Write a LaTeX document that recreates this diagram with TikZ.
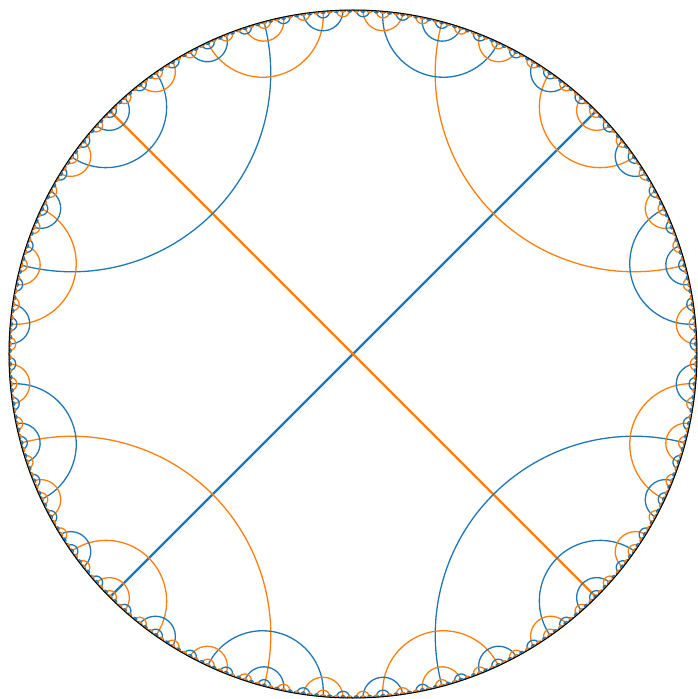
\documentclass[tikz,border=0pt]{standalone}
\usepackage{tikz}

\definecolor{hypblue}{HTML}{1F77B4}
\definecolor{hyporange}{HTML}{FF7F0E}
\def\rad{344}

\tikzset{
  geo0/.style={hypblue,line width=1.3pt},
  geo1/.style={hyporange,line width=1.3pt},
  axis/.style={line width=2.4pt}
}

% geodesic through the vertex that owns the boundary interval [#1,#1+#2]
\newcommand\geoarc[3]{%
  \pgfmathsetmacro\gm{#1+#2/2}%
  \pgfmathsetmacro\gh{#2/3}%
  \pgfmathsetmacro\gr{\rad*tan(\gh)}%
  \pgfmathsetmacro\gd{\rad/cos(\gh)}%
  \draw[geo#3] (\gm:\gd pt) ++(\gm+90+\gh:\gr pt)
    arc[start angle=\gm+90+\gh, end angle=\gm+270-\gh, radius=\gr pt];%
}

% vertex: interval start, width, colour of arriving line, depth left
\newcommand\hypvertex[4]{%
  \ifnum#4>0
  \begingroup
    \pgfmathsetmacro\va{#1}%
    \pgfmathsetmacro\vw{#2}%
    \pgfmathtruncatemacro\vc{#3}%
    \pgfmathtruncatemacro\vd{#4-1}%
    \pgfmathtruncatemacro\vo{1-\vc}%
    \geoarc{\va}{\vw}{\vo}%
    \pgfmathsetmacro\vt{\vw/3}%
    \pgfmathsetmacro\vb{\va+\vt}%
    \pgfmathsetmacro\ve{\va+2*\vt}%
    \hypvertex{\va}{\vt}{\vo}{\vd}%
    \hypvertex{\vb}{\vt}{\vc}{\vd}%
    \hypvertex{\ve}{\vt}{\vo}{\vd}%
  \endgroup
  \fi}

\begin{document}
\begin{tikzpicture}
  \useasboundingbox (-353pt,-345pt) rectangle (344pt,354pt);
  \coordinate (c) at (0,0);
  % the two diameters
  \draw[geo0,axis] (c) ++(225:\rad pt) -- ++(45:2*\rad pt);
  \draw[geo1,axis] (c) ++(135:\rad pt) -- ++(315:2*\rad pt);
  % the four branches
  \hypvertex{0}{90}{0}{6}
  \hypvertex{90}{90}{1}{6}
  \hypvertex{180}{90}{0}{6}
  \hypvertex{270}{90}{1}{6}
  % boundary
  \draw[black,line width=1pt] (c) circle[radius=\rad pt];
\end{tikzpicture}
\end{document}
